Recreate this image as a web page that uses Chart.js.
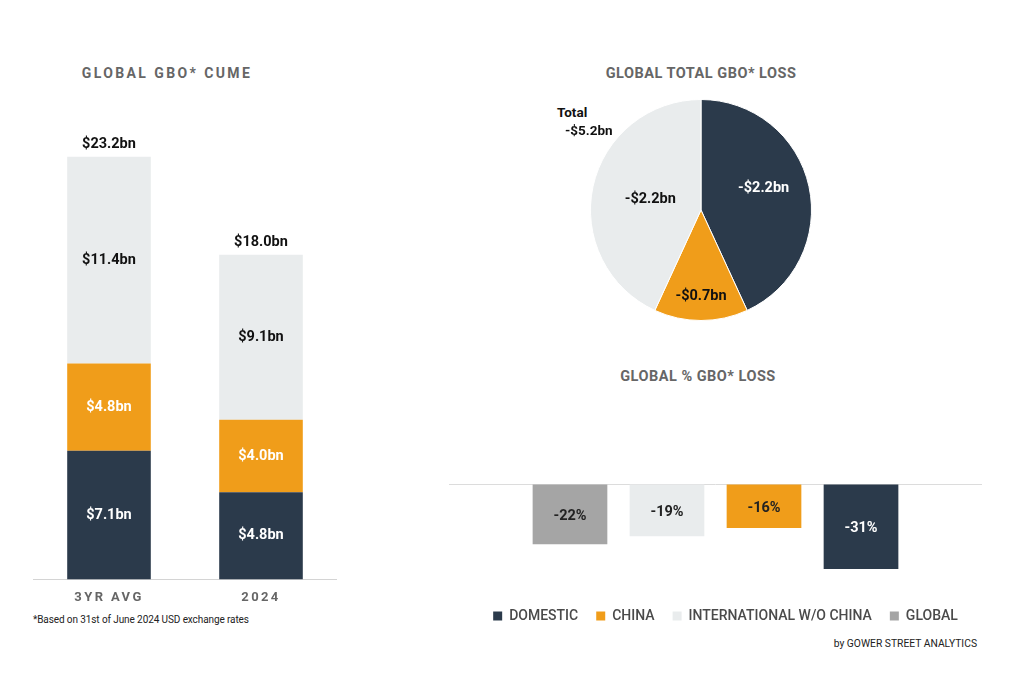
<!DOCTYPE html>
<html>
<head>
<meta charset="utf-8">
<script src="https://cdn.jsdelivr.net/npm/chart.js@4/dist/chart.umd.min.js"></script>
<style>
  body { margin: 0; width: 1024px; height: 678px; background: #fff; font-family: Roboto, sans-serif; position: relative; overflow: hidden; }
  .box { position: absolute; }
  .title { position: absolute; font-weight: 700; font-size: 14px; line-height: 16px; color: #666; white-space: nowrap; transform: translateX(-50%); }
  .note { position: absolute; font-size: 10px; line-height: 12px; color: #222; white-space: nowrap; }
  .total { position: absolute; font-weight: 700; font-size: 13.5px; line-height: 15px; color: #111; white-space: nowrap; }
</style>
</head>
<body>
<div class="title" style="left:167px; top:65px; letter-spacing:2.4px">GLOBAL GBO* CUME</div>
<div class="title" style="left:701px; top:66px; font-size:14.5px; letter-spacing:0.5px">GLOBAL TOTAL GBO* LOSS</div>
<div class="title" style="left:698px; top:369px; font-size:14.5px; letter-spacing:0.5px">GLOBAL % GBO* LOSS</div>

<div class="box" style="left:33px; top:100px; width:304px; height:512px"><canvas id="cume"></canvas></div>
<div class="box" style="left:590px; top:99px; width:222px; height:222px"><canvas id="loss"></canvas></div>
<div class="box" style="left:449px; top:473px; width:533px; height:160px"><canvas id="pct"></canvas></div>

<div class="total" style="left:557px; top:105px">Total</div>
<div class="total" id="lossTotal" style="left:565px; top:123px"></div>

<div class="note" style="left:33px; top:614px; letter-spacing:-0.1px">*Based on 31st of June 2024 USD exchange rates</div>
<div class="note" style="right:47px; top:638px; font-size:10.3px">by GOWER STREET ANALYTICS</div>

<script>
// GBO cume, $bn
const cumeCategories = ["3YR AVG", "2024"];
const cumeDomestic = [7.1, 4.8];
const cumeChina = [4.8, 4.0];
const cumeIntl = [11.4, 9.1];
const cumeTotals = [23.2, 18.0];

// total loss, $bn
const lossLabels = ["DOMESTIC", "CHINA", "INTERNATIONAL W/O CHINA"];
const lossValues = [-2.2, -0.7, -2.2];
const lossTotal = -5.2;

// % loss
const pctLabels = ["GLOBAL", "INTERNATIONAL W/O CHINA", "CHINA", "DOMESTIC"];
const pctValues = [-22, -19, -16, -31];

const NAVY = "#2b3a4b";
const ORANGE = "#f09d1a";
const LIGHT = "#e9eced";
const GRAY = "#a5a5a5";

const bn = v => (v < 0 ? "-$" : "$") + Math.abs(v).toFixed(1) + "bn";
document.getElementById("lossTotal").textContent = bn(lossTotal);

Chart.defaults.font.family = "Roboto, sans-serif";
Chart.defaults.animation = false;

const LABEL_FONT = "bold 14.5px Roboto";

function drawText(ctx, text, x, y, color) {
    ctx.fillStyle = color;
    ctx.fillText(text, x, y);
}

// left: stacked bars
new Chart(document.getElementById("cume"), {
    type: "bar",
    data: {
        labels: cumeCategories,
        datasets: [
            { label: "DOMESTIC", data: cumeDomestic, backgroundColor: NAVY, labelColor: "#fff" },
            { label: "CHINA", data: cumeChina, backgroundColor: ORANGE, labelColor: "#fff" },
            { label: "INTERNATIONAL W/O CHINA", data: cumeIntl, backgroundColor: LIGHT, labelColor: "#111" },
        ],
    },
    options: {
        responsive: true,
        maintainAspectRatio: false,
        layout: { padding: { top: 26, bottom: 3 } },
        datasets: { bar: { categoryPercentage: 1, barPercentage: 0.55 } },
        scales: {
            x: {
                stacked: true,
                grid: { display: false },
                border: { color: "#d4d4d4" },
                ticks: { color: "#666", font: { size: 13, weight: "bold" }, padding: 3 },
            },
            y: { stacked: true, min: 0, max: 25, display: false },
        },
        plugins: { legend: { display: false }, tooltip: { enabled: false } },
    },
    plugins: [{
        id: "cumeLabels",
        beforeDraw(chart) { chart.ctx.letterSpacing = "2.4px"; },
        beforeDatasetsDraw(chart) { chart.ctx.letterSpacing = "0px"; },
        afterDatasetsDraw(chart) {
            const ctx = chart.ctx;
            ctx.save();
            ctx.font = LABEL_FONT;
            ctx.textAlign = "center";
            ctx.textBaseline = "middle";
            chart.data.datasets.forEach((ds, i) => {
                chart.getDatasetMeta(i).data.forEach((el, j) => {
                    const p = el.getCenterPoint();
                    drawText(ctx, bn(ds.data[j]), p.x, p.y, ds.labelColor);
                });
            });
            const top = chart.getDatasetMeta(chart.data.datasets.length - 1).data;
            ctx.textBaseline = "bottom";
            top.forEach((el, j) => drawText(ctx, bn(cumeTotals[j]), el.x, el.y - 5, "#111"));
            ctx.restore();
        },
    }],
});

// top right: pie
const pieLabelColors = ["#fff", "#111", "#111"];
const pieLabelRadius = [0.58, 0.78, 0.47];
new Chart(document.getElementById("loss"), {
    type: "pie",
    data: {
        labels: lossLabels,
        datasets: [{
            data: lossValues,
            backgroundColor: [NAVY, ORANGE, LIGHT],
            borderColor: "#fff",
            borderWidth: 1,
        }],
    },
    options: {
        responsive: true,
        maintainAspectRatio: false,
        plugins: { legend: { display: false }, tooltip: { enabled: false } },
    },
    plugins: [{
        id: "pieLabels",
        afterDatasetsDraw(chart) {
            const ctx = chart.ctx;
            ctx.save();
            ctx.font = LABEL_FONT;
            ctx.textAlign = "center";
            ctx.textBaseline = "middle";
            chart.getDatasetMeta(0).data.forEach((el, j) => {
                const mid = (el.startAngle + el.endAngle) / 2;
                const r = el.outerRadius * pieLabelRadius[j];
                drawText(ctx, bn(lossValues[j]), el.x + Math.cos(mid) * r, el.y + Math.sin(mid) * r - (j === 0 ? 8 : 0), pieLabelColors[j]);
            });
            ctx.restore();
        },
    }],
});

// bottom right: % loss bars
const pctColors = [GRAY, LIGHT, ORANGE, NAVY];
const pctLabelColors = ["#222", "#222", "#222", "#fff"];
new Chart(document.getElementById("pct"), {
    type: "bar",
    data: {
        labels: [""],
        datasets: pctLabels.map((name, i) => ({
            label: name,
            data: [pctValues[i]],
            backgroundColor: pctColors[i],
        })),
    },
    options: {
        responsive: true,
        maintainAspectRatio: false,
        layout: { padding: { top: 11 } },
        datasets: { bar: { categoryPercentage: 0.728, barPercentage: 0.77 } },
        scales: {
            x: { display: false },
            y: {
                min: -39,
                max: 0,
                ticks: { display: false },
                border: { display: false },
                grid: { drawTicks: false, color: c => (c.tick.value === 0 ? "#dcdcdc" : "transparent") },
            },
        },
        plugins: {
            tooltip: { enabled: false },
            legend: {
                position: "bottom",
                reverse: true,
                labels: {
                    boxWidth: 9,
                    boxHeight: 9,
                    padding: 18,
                    color: "#4a4a4a",
                    font: { size: 14, weight: "500" },
                },
            },
        },
    },
    plugins: [{
        id: "pctLabels",
        afterLayout(chart) {
            // legend sits a little right of the plot centre in the original
            chart.legend.left += 10;
            chart.legend.right += 10;
        },
        afterDatasetsDraw(chart) {
            const ctx = chart.ctx;
            ctx.save();
            ctx.font = LABEL_FONT;
            ctx.textAlign = "center";
            ctx.textBaseline = "middle";
            chart.data.datasets.forEach((ds, i) => {
                const el = chart.getDatasetMeta(i).data[0];
                const p = el.getCenterPoint();
                drawText(ctx, ds.data[0] + "%", p.x, p.y + 2, pctLabelColors[i]);
            });
            ctx.restore();
        },
    }],
});
</script>
</body>
</html>
